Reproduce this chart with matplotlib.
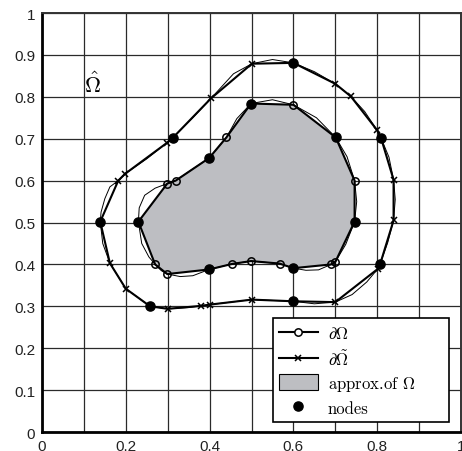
import matplotlib
matplotlib.use("Agg")
import matplotlib.pyplot as plt
from matplotlib.lines import Line2D
from matplotlib.patches import Patch

plt.rcParams['mathtext.fontset'] = 'cm'
plt.rcParams['font.family'] = ['Liberation Sans', 'DejaVu Sans']
plt.rcParams['axes.formatter.use_mathtext'] = True

# approximated inner boundary (polygon vertices)
inner_x = [0.230, 0.270, 0.299, 0.399, 0.453, 0.499, 0.567, 0.600, 0.690, 0.700,
           0.746, 0.746, 0.701, 0.600, 0.499, 0.440, 0.399, 0.319, 0.299]
inner_y = [0.502, 0.400, 0.377, 0.388, 0.401, 0.408, 0.402, 0.391, 0.400, 0.406,
           0.502, 0.600, 0.703, 0.781, 0.784, 0.703, 0.654, 0.600, 0.593]
inner_node = [1, 0, 0, 1, 0, 0, 0, 1, 0, 0, 1, 0, 1, 0, 1, 0, 1, 0, 0]

# approximated outer boundary (polygon vertices)
outer_x = [0.139, 0.162, 0.200, 0.258, 0.300, 0.379, 0.400, 0.501, 0.600, 0.700,
           0.801, 0.807, 0.839, 0.839, 0.809, 0.800, 0.737, 0.700, 0.600, 0.501,
           0.403, 0.312, 0.298, 0.198, 0.182]
outer_y = [0.502, 0.403, 0.342, 0.300, 0.294, 0.301, 0.304, 0.316, 0.312, 0.310,
           0.389, 0.401, 0.505, 0.602, 0.702, 0.720, 0.801, 0.831, 0.881, 0.879,
           0.796, 0.702, 0.690, 0.616, 0.600]
outer_node = [1, 0, 0, 1, 0, 0, 0, 0, 1, 0, 0, 1, 0, 0, 1, 0, 0, 0, 1, 0, 0, 1, 0, 0, 0]

# exact (smooth) boundaries, read as points
true_in_x = [0.230, 0.238, 0.255, 0.270, 0.285, 0.299, 0.330, 0.360, 0.399, 0.453,
             0.499, 0.567, 0.600, 0.630, 0.660, 0.690, 0.700, 0.725, 0.746, 0.751,
             0.746, 0.728, 0.701, 0.655, 0.600, 0.550, 0.499, 0.465, 0.440, 0.399,
             0.360, 0.319, 0.299, 0.270, 0.245, 0.232, 0.230]
true_in_y = [0.502, 0.450, 0.418, 0.400, 0.385, 0.377, 0.371, 0.373, 0.388, 0.401,
             0.408, 0.402, 0.391, 0.386, 0.387, 0.400, 0.406, 0.448, 0.502, 0.550,
             0.600, 0.657, 0.703, 0.750, 0.781, 0.793, 0.784, 0.748, 0.703, 0.654,
             0.628, 0.600, 0.593, 0.582, 0.565, 0.535, 0.502]

true_out_x = [0.139, 0.145, 0.162, 0.200, 0.258, 0.300, 0.350, 0.400, 0.501, 0.600,
              0.650, 0.700, 0.740, 0.775, 0.801, 0.807, 0.825, 0.839, 0.843, 0.839,
              0.828, 0.809, 0.800, 0.770, 0.737, 0.700, 0.650, 0.600, 0.550, 0.501,
              0.457, 0.403, 0.360, 0.312, 0.298, 0.250, 0.198, 0.182, 0.162, 0.150,
              0.141, 0.139]
true_out_y = [0.502, 0.450, 0.403, 0.342, 0.300, 0.294, 0.297, 0.304, 0.316, 0.312,
              0.306, 0.310, 0.328, 0.358, 0.389, 0.401, 0.452, 0.505, 0.555, 0.602,
              0.656, 0.702, 0.720, 0.765, 0.801, 0.831, 0.860, 0.881, 0.889, 0.879,
              0.855, 0.796, 0.750, 0.702, 0.690, 0.652, 0.616, 0.600, 0.585, 0.557,
              0.525, 0.502]

xticks = [0, 0.1, 0.2, 0.3, 0.4, 0.5, 0.6, 0.7, 0.8, 0.9, 1.0]
xticklabels = ['0', '', '0.2', '', '0.4', '', '0.6', '', '0.8', '', '1']
yticks = [0, 0.1, 0.2, 0.3, 0.4, 0.5, 0.6, 0.7, 0.8, 0.9, 1.0]
yticklabels = ['0', '0.1', '0.2', '0.3', '0.4', '0.5', '0.6', '0.7', '0.8', '0.9', '1']

fill_col = '#bdbec2'

fig = plt.figure(figsize=(4.62, 4.52), dpi=100)
ax = fig.add_axes([0.0909, 0.042, 0.907, 0.927])
ax.set_xlim(0, 1)
ax.set_ylim(0, 1)
ax.set_xticks(xticks)
ax.set_xticklabels(xticklabels)
ax.set_yticks(yticks)
ax.set_yticklabels(yticklabels)
ax.tick_params(length=0, labelsize=11, colors='#222222')
ax.tick_params(axis='x', pad=5)
ax.tick_params(axis='y', pad=5)
ax.grid(True, color='#2a2a2a', lw=0.9)
ax.set_axisbelow(True)
for s in ['top', 'right']:
    ax.spines[s].set_linewidth(1.4)
    ax.spines[s].set_color('#333333')
for s in ['left', 'bottom']:
    ax.spines[s].set_linewidth(2.0)
    ax.spines[s].set_color('black')

# shaded approximation
ax.fill(inner_x, inner_y, color=fill_col, zorder=2, lw=0)

# smooth exact boundaries
ax.plot(true_in_x, true_in_y, color='black', lw=0.7, zorder=3)
ax.plot(true_out_x, true_out_y, color='black', lw=0.7, zorder=3)

# polygons
ax.plot(inner_x + inner_x[:1], inner_y + inner_y[:1], color='black', lw=1.5, zorder=4)
ax.plot(outer_x + outer_x[:1], outer_y + outer_y[:1], color='black', lw=1.5, zorder=4)

ix = [x for x, n in zip(inner_x, inner_node) if not n]
iy = [y for y, n in zip(inner_y, inner_node) if not n]
ax.plot(ix, iy, ls='none', marker='o', ms=5.3, mfc='none', mec='black', mew=1.1, zorder=5)
ox = [x for x, n in zip(outer_x, outer_node) if not n]
oy = [y for y, n in zip(outer_y, outer_node) if not n]
ax.plot(ox, oy, ls='none', marker='x', ms=3.8, color='black', mew=1.1, zorder=5)

nx = [x for x, n in zip(inner_x, inner_node) if n] + [x for x, n in zip(outer_x, outer_node) if n]
ny = [y for y, n in zip(inner_y, inner_node) if n] + [y for y, n in zip(outer_y, outer_node) if n]
ax.plot(nx, ny, ls='none', marker='o', ms=6.6, color='black', zorder=6)

ax.text(0.121, 0.830, r'$\hat{\Omega}$', fontsize=16, ha='center', va='center', zorder=7)

handles = [
    Line2D([], [], color='black', lw=1.5, marker='o', mfc='white', mec='black', ms=5.3, mew=1.1),
    Line2D([], [], color='black', lw=1.5, marker='x', ms=3.8, mew=1.1),
    Patch(fc=fill_col, ec='black', lw=0.8),
    Line2D([], [], ls='none', marker='o', color='black', ms=6.6),
]
labels = [r'$\partial\Omega$', r'$\partial\tilde{\Omega}$', r'approx.of $\Omega$', 'nodes']
leg = ax.legend(handles, labels, loc='lower left', bbox_to_anchor=(0.551, 0.023, 0.42, 0.25),
                mode='expand', borderaxespad=0, fancybox=False, framealpha=1, edgecolor='black',
                prop={'family': ['cmr10'], 'size': 12}, handlelength=2.3,
                handleheight=1.1, handletextpad=0.6,
                labelspacing=0.38, borderpad=0.38)
leg.get_frame().set_linewidth(1.2)
leg.set_zorder(10)

fig.savefig('out.png', dpi=100)
